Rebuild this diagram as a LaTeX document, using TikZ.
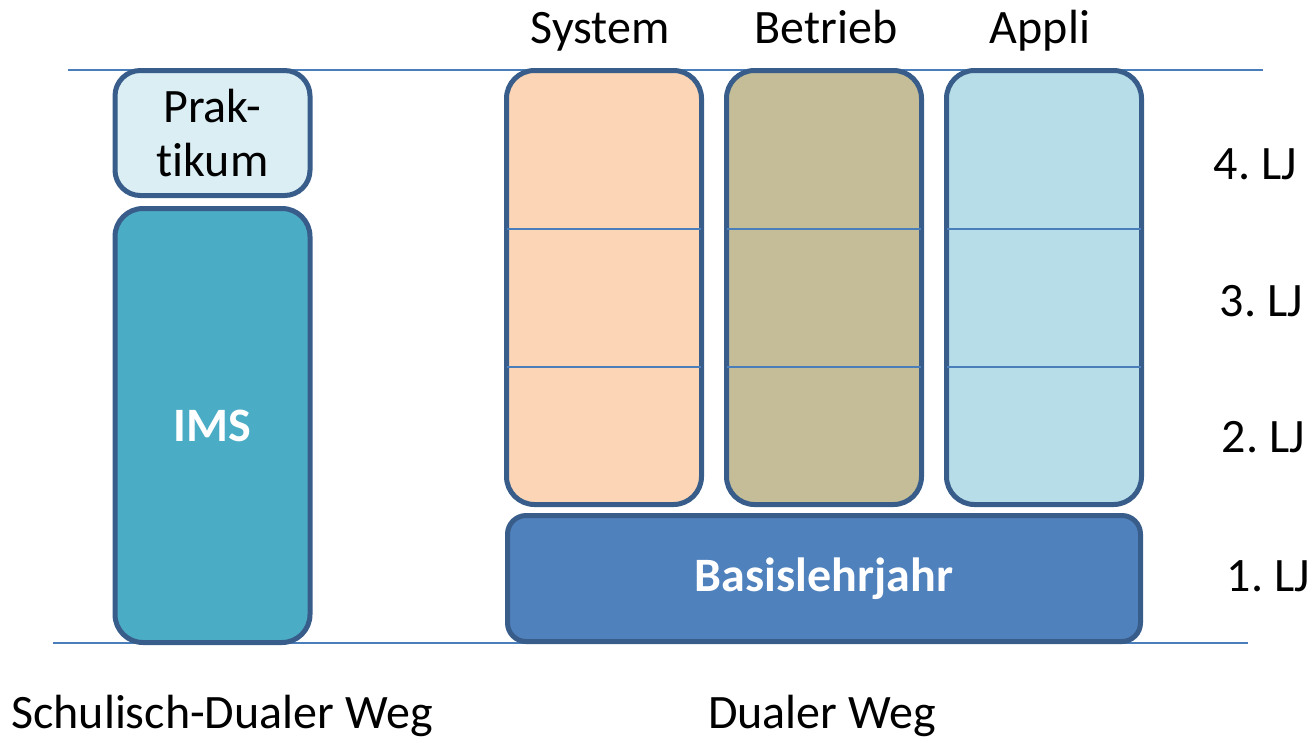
\documentclass[tikz,border=0pt]{standalone}
\usepackage{fontspec}
\setmainfont[Ligatures=NoCommon]{Carlito}
\usetikzlibrary{positioning}

\definecolor{rim}{HTML}{385D8A}
\definecolor{rule}{HTML}{4A7EBB}
\definecolor{prakfill}{HTML}{DAEEF3}
\definecolor{imsfill}{HTML}{4BACC6}
\definecolor{sysfill}{HTML}{FBD5B5}
\definecolor{betfill}{HTML}{C4BD97}
\definecolor{appfill}{HTML}{B7DEE8}
\definecolor{basisfill}{HTML}{4F81BD}

\begin{document}
\frenchspacing
\begin{tikzpicture}[x=0.75pt,y=-0.75pt,
	box/.style={draw=rim,line width=3.75pt,rounded corners=21pt,inner sep=0pt,
		minimum width=146.25pt,align=center,font=\fontsize{36}{40.5}\selectfont},
	col/.style={box,minimum height=325.5pt},
	div/.style={draw=rule,line width=1.5pt,shorten <=1.9pt,shorten >=1.9pt},
	lbl/.style={anchor=base,font=\fontsize{36}{40.5}\selectfont}]
		\useasboundingbox (0,0) rectangle (1316,740);
		% baselines
		\draw[rule,line width=1.5pt] (68,70)--(1263,70);
		\draw[rule,line width=1.5pt] (53,643)--(1248,643);
		% schulisch-dualer weg
		\node[box,fill=prakfill,minimum height=93.75pt,rounded corners=19pt] (prak) at (212.5,133) {Prak-\\tikum};
		\node[col,fill=imsfill,below=6pt of prak,text=white,font=\fontsize{36}{40.5}\selectfont\bfseries] (ims) {IMS};
		% dualer weg
		\node[col,fill=sysfill] (sys) at (604,287.5) {};
		\node[col,fill=betfill,right=15pt of sys] (bet) {};
		\node[col,fill=appfill,right=15pt of bet] (app) {};
		\node[box,fill=basisfill,minimum width=474.75pt,minimum height=94.5pt,rounded corners=14pt,
			text=white,font=\fontsize{36}{40.5}\selectfont\bfseries] (basis) at (824,578.5) {Basislehrjahr};
		\foreach \b in {sys,bet,app}
		{
			\foreach \y in {229,367}
				\draw[div] (\b.west |- 0,\y)--(\b.east |- 0,\y);
		}
		% labels
		\node[lbl] (lsys) at (600,43) {System};
		\node[lbl] (lbet) at (826,43) {Betrieb};
		\node[lbl] (lapp) at (1040,43) {Appli};
		\foreach \n/\x/\y in {4/1302/179,3/1308/316,2/1310/452,1/1315/591}
		{
			\node[lbl,anchor=base east] (lj\n) at (\x,\y) {\n. LJ};
		}
		\node[lbl] (lschul) at (222,728) {Schulisch-Dualer Weg};
		\node[lbl] (ldual) at (822,728) {Dualer Weg};
	\end{tikzpicture}
\end{document}
